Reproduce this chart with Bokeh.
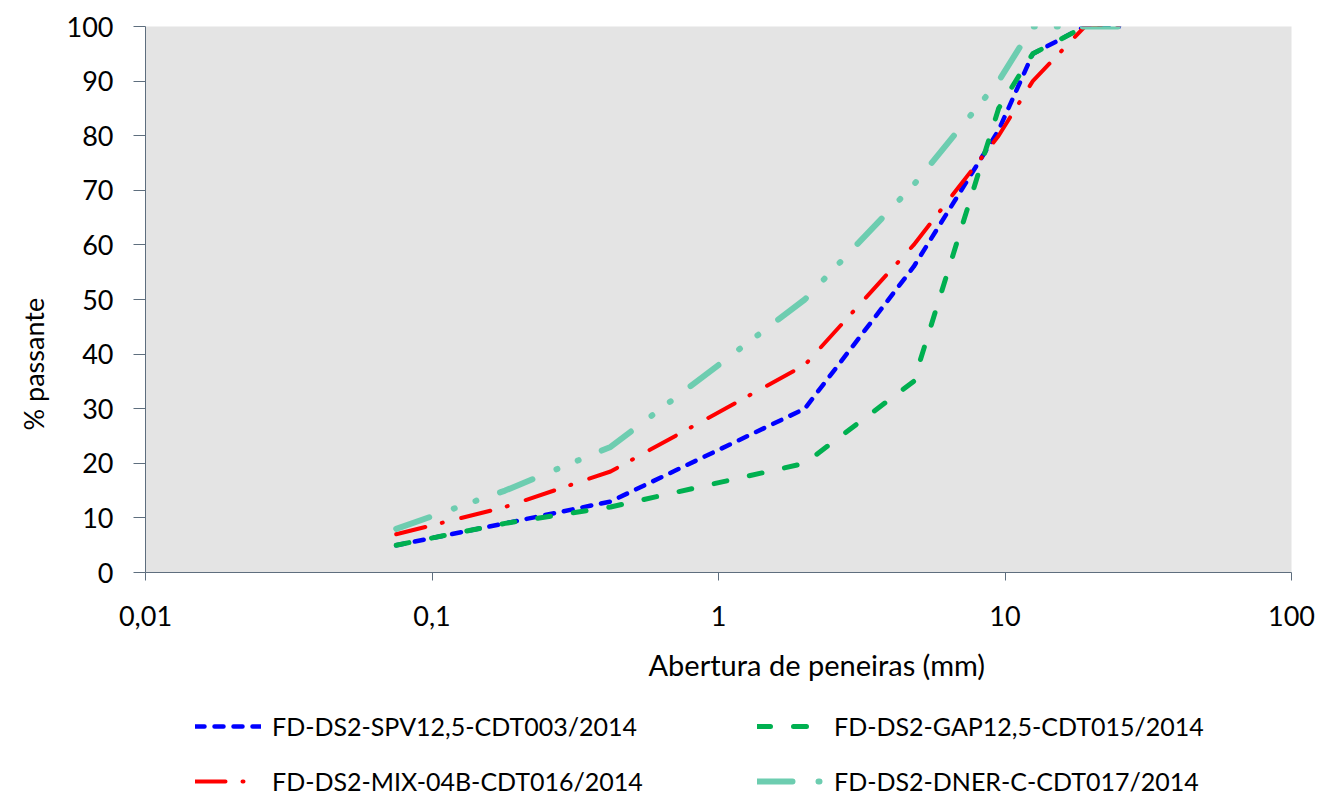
from bokeh.plotting import figure
from bokeh.layouts import column
from bokeh.models import (Range1d, FixedTicker, CustomJSTickFormatter, Legend,
                          LegendItem, Title)
from bokeh.embed import file_html
from bokeh.resources import INLINE

# ---- data ----
sieve_mm = [0.075, 0.18, 0.42, 2.0, 4.8, 9.5, 12.5, 19.0, 25.0]
spv_pass = [5, 9, 13, 30, 56, 81, 95, 100, 100]
gap_pass = [5, 9, 12, 20, 35, 85, 95, 100, 100]
mix_pass = [7, 12, 18.5, 38, 60, 80, 90, 100, 100]
dner_pass = [8, 15, 23, 50, 71, 90, 100, 100, 100]
series_names = ["FD-DS2-SPV12,5-CDT003/2014", "FD-DS2-GAP12,5-CDT015/2014",
                "FD-DS2-MIX-04B-CDT016/2014", "FD-DS2-DNER-C-CDT017/2014"]
x_ticks = [0.01, 0.1, 1, 10, 100]
x_tick_labels = ["0,01", "0,1", "1", "10", "100"]
y_ticks = [0, 10, 20, 30, 40, 50, 60, 70, 80, 90, 100]
x_title = "Abertura de peneiras (mm)"
y_title = "% passante"

FONT = "Lato"
AXIS_COLOR = "#5E6E7E"

p = figure(x_axis_type="log", x_range=Range1d(0.01, 100), y_range=Range1d(0, 100),
           frame_width=1146, frame_height=546, output_backend="svg", toolbar_location=None,
           min_border_left=145, min_border_top=26, min_border_right=29,
           min_border_bottom=128)
p.background_fill_color = "#E4E4E4"
p.border_fill_color = "white"
p.outline_line_color = None
p.xgrid.visible = False
p.ygrid.visible = False

styles = [
    dict(color="#0000FF", width=4.5, dash="9 10"),
    dict(color="#00B050", width=5, dash="13 23"),
    dict(color="#FF0000", width=4, dash="30 17 1 19"),
    dict(color="#6DCDB0", width=6, dash="35 26 1 22 1 25"),
]
ys = [spv_pass, gap_pass, mix_pass, dner_pass]
for yv, st in zip(ys, styles):
    p.line(sieve_mm, yv, line_color=st["color"], line_width=st["width"],
           line_dash=st["dash"], line_cap="round", line_join="round")

# axes
p.xaxis.ticker = FixedTicker(ticks=x_ticks)
p.xaxis.formatter = CustomJSTickFormatter(
    args=dict(tvals=x_ticks, tlabels=x_tick_labels), code="""
let best = 0;
for (let i = 0; i < tvals.length; i++) {
  if (Math.abs(Math.log10(tvals[i]) - Math.log10(tick)) <
      Math.abs(Math.log10(tvals[best]) - Math.log10(tick))) best = i;
}
return tlabels[best];
""")
p.yaxis.ticker = FixedTicker(ticks=y_ticks)
for ax in (p.xaxis, p.yaxis):
    ax.axis_line_color = AXIS_COLOR
    ax.major_tick_line_color = AXIS_COLOR
    ax.minor_tick_line_color = None
    ax.major_tick_in = 0
    ax.major_label_text_font = FONT
    ax.major_label_text_font_size = "27px"
    ax.major_label_text_color = "black"
p.xaxis.major_tick_out = 8
p.yaxis.major_tick_out = 12
p.xaxis.major_label_standoff = 25
p.yaxis.major_label_standoff = 20

# axis titles as side-panel titles
p.add_layout(Title(text=x_title, align="left", offset=503, standoff=32,
                   text_font=FONT, text_font_size="29px", text_font_style="normal",
                   text_color="black"), "below")
p.add_layout(Title(text=y_title, align="left", offset=142, standoff=28,
                   text_font=FONT, text_font_size="27px", text_font_style="normal",
                   text_color="black"), "left")

# legend strip underneath; its line renderers carry the same series but lie
# outside its (empty) view, so only the legend entries show
lg = figure(width=1320, height=97, output_backend="svg", toolbar_location=None,
            x_range=Range1d(1000, 1001), y_range=Range1d(1000, 1001),
            x_axis_location=None, y_axis_location=None,
            min_border_left=0, min_border_right=0, min_border_top=0, min_border_bottom=0)
lg.outline_line_color = None
lg.xgrid.visible = False
lg.ygrid.visible = False
lg.background_fill_color = "white"
lg.border_fill_color = "white"
proxies = []
for yv, st in zip(ys, styles):
    proxies.append(lg.line(sieve_mm, yv, line_color=st["color"], line_width=st["width"],
                           line_dash=st["dash"], line_cap="round", line_join="round"))
items = [LegendItem(label=n, renderers=[r]) for n, r in zip(series_names, proxies)]
legend = Legend(items=items, orientation="horizontal", ncols=2, location=(50, 1),
                label_text_font=FONT, label_text_font_size="25px", label_text_color="black",
                glyph_width=66, glyph_height=30, label_width=460, label_height=30,
                spacing=25, label_standoff=11, padding=0, margin=0,
                background_fill_alpha=0, border_line_alpha=0)
lg.add_layout(legend, "center")

page = column(p, lg, spacing=0)
open("out.html", "w").write(file_html(page, INLINE))
